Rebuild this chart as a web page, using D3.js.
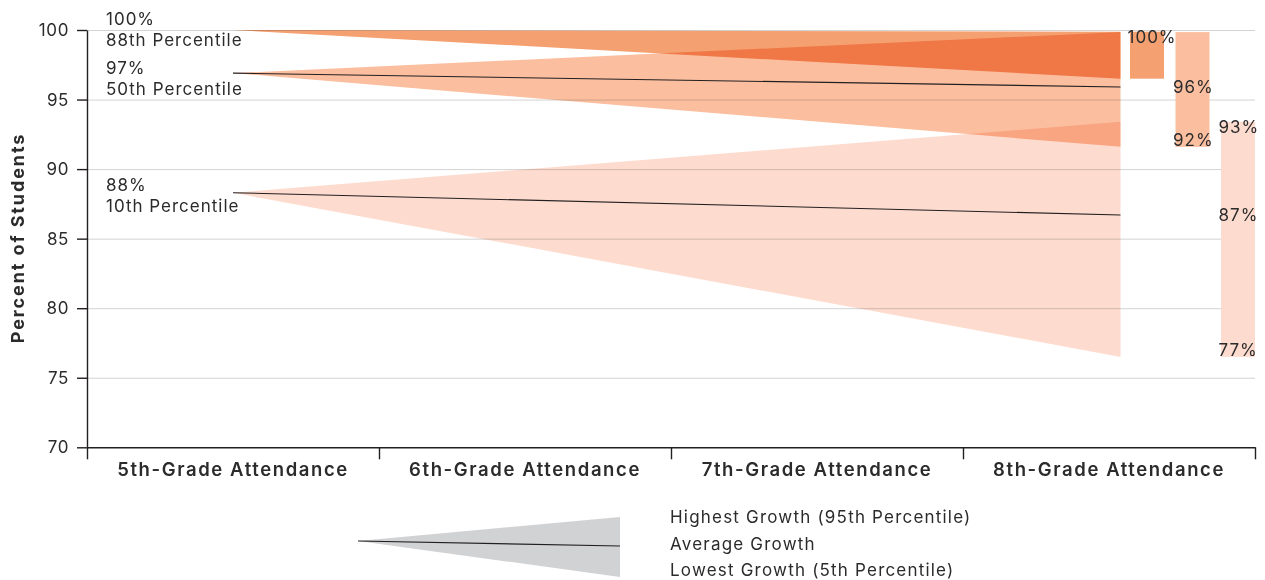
<!DOCTYPE html>
<html>
<head>
<meta charset="utf-8">
<script src="https://cdn.jsdelivr.net/npm/d3@7"></script>
<style>
  html, body { margin: 0; padding: 0; background: #fff; }
  svg { display: block; font-family: "Inter", "Lato", sans-serif; }
  text { fill: #2b2b2b; }
</style>
</head>
<body>
<svg id="chart" width="1265" height="580"></svg>
<script>
// Attendance growth fans: where a 5th-grade percentile lands by 8th grade
const grades = ["5th-Grade Attendance", "6th-Grade Attendance", "7th-Grade Attendance", "8th-Grade Attendance"];
const percentiles = ["88th Percentile", "50th Percentile", "10th Percentile"];
const start5th = [100, 96.9, 88.3];        // attendance in 5th grade
const high8th = [99.88, 99.85, 93.4];      // 95th percentile of growth, 8th grade
const avg8th = [null, 95.9, 86.7];         // average growth, 8th grade
const low8th = [96.5, 91.6, 76.5];         // 5th percentile of growth, 8th grade
const yTicks = [70, 75, 80, 85, 90, 95, 100];
const legendLabels = ["Highest Growth (95th Percentile)", "Average Growth", "Lowest Growth (5th Percentile)"];

const fills = ["#f4a070", "#fbbfa0", "#fddccf"];
const ink = "#231f20";

const svg = d3.select("#chart");
const plotLeft = 87, plotRight = 1255, plotTop = 30, plotBottom = 447.3;

const y = d3.scaleLinear().domain([70, 100]).range([plotBottom, plotTop]);
const x = d3.scaleBand().domain(grades).range([plotLeft, plotRight]);

// bar slots inside the last grade band
const barW = 34, barStep = 45.5;
const barX = i => plotRight - barW - (percentiles.length - 1 - i) * barStep;
const fanStart = x(grades[0]) + x.bandwidth() / 2;
const fanEnd = barX(0) - 9.5;

// grid
svg.append("g")
  .attr("transform", `translate(${plotLeft},0)`)
  .call(d3.axisLeft(y).tickValues(yTicks.slice(1)).tickSize(-(plotRight - plotLeft)).tickFormat(""))
  .call(g => g.select(".domain").remove())
  .call(g => g.selectAll("line").attr("stroke", "#d3d3d3").attr("stroke-width", 1));

// fans
const fans = svg.append("g");
percentiles.forEach((p, i) => {
  const pts = [[fanStart, y(start5th[i])], [fanEnd, y(high8th[i])], [fanEnd, y(low8th[i])]];
  fans.append("path")
    .attr("d", d3.line()(pts) + "Z")
    .attr("fill", fills[i])
    .style("mix-blend-mode", "multiply");
});

// average growth lines
percentiles.forEach((p, i) => {
  if (avg8th[i] == null) return;
  svg.append("line")
    .attr("x1", fanStart).attr("y1", y(start5th[i]))
    .attr("x2", fanEnd).attr("y2", y(avg8th[i]))
    .attr("stroke", ink).attr("stroke-width", 1.1);
});

// 8th-grade range bars
const fmt = v => d3.format(".0f")(v) + "%";
const bars = svg.append("g");
percentiles.forEach((p, i) => {
  bars.append("rect")
    .attr("x", barX(i)).attr("y", y(high8th[i]))
    .attr("width", barW).attr("height", y(low8th[i]) - y(high8th[i]))
    .attr("fill", fills[i]);
});
const lab = svg.append("g").attr("font-size", 17).attr("letter-spacing", 1);
percentiles.forEach((p, i) => {
  const tx = barX(i) - 2.5;
  const showHigh = i === 0 || Math.abs(high8th[i] - high8th[i - 1]) > 1;
  if (showHigh) lab.append("text").attr("x", tx).attr("y", y(high8th[i]) + 11.5).text(fmt(high8th[i]));
  if (avg8th[i] != null) lab.append("text").attr("x", tx).attr("y", y(avg8th[i]) + 6).text(fmt(avg8th[i]));
  if (i > 0) lab.append("text").attr("x", tx).attr("y", y(low8th[i]) - 0.5).text(fmt(low8th[i]));
});

// start labels
const nudge = [-5, 1, -2];
percentiles.forEach((p, i) => {
  const by = y(start5th[i]) + nudge[i];
  lab.append("text").attr("x", 106).attr("y", by).text(fmt(start5th[i]));
  lab.append("text").attr("x", 106).attr("y", by + 21).text(p);
});

// y axis
svg.append("g")
  .attr("transform", `translate(${plotLeft},0)`)
  .call(d3.axisLeft(y).tickValues(yTicks).tickSize(10).tickSizeOuter(0).tickPadding(8))
  .call(g => g.selectAll("path, line").attr("stroke", ink).attr("stroke-width", 1.4))
  .call(g => g.selectAll("text").attr("font-size", 17).attr("font-family", "Inter")
    .attr("letter-spacing", 0.6).attr("fill", "#333"));

// x axis: boundary ticks + centered labels
const xEdges = d3.scaleLinear().domain([0, grades.length]).range([plotLeft, plotRight]);
svg.append("g")
  .attr("transform", `translate(0,${plotBottom})`)
  .call(d3.axisBottom(xEdges).ticks(grades.length).tickSize(12).tickSizeOuter(0).tickFormat(""))
  .call(g => g.selectAll("path, line").attr("stroke", ink).attr("stroke-width", 1.4));
svg.append("g")
  .attr("transform", `translate(0,${plotBottom})`)
  .call(d3.axisBottom(x).tickSize(0).tickPadding(12))
  .call(g => g.select(".domain").remove())
  .call(g => g.selectAll("text").attr("font-size", 18.5).attr("font-weight", 600)
    .attr("letter-spacing", 1.6)
    .attr("font-family", "Inter").attr("fill", "#2b2b2b").attr("dy", "0.9em"));

// y axis title
svg.append("text")
  .attr("transform", `translate(24,238) rotate(-90)`)
  .attr("text-anchor", "middle")
  .attr("font-size", 18).attr("font-weight", 700).attr("letter-spacing", 1.9)
  .text("Percent of Students");

// legend
const lx = d3.scaleLinear().domain([0, 1]).range([358, 620]);
const ly = d3.scaleLinear().domain([-1, 0, 1]).range([577, 541, 517]);
const legend = svg.append("g");
legend.append("path")
  .attr("d", d3.line()([[lx(0), ly(0)], [lx(1), ly(1)], [lx(1), ly(-1)]]) + "Z")
  .attr("fill", "#d1d2d4");
legend.append("line")
  .attr("x1", lx(0)).attr("y1", ly(0)).attr("x2", lx(1)).attr("y2", ly(-0.14))
  .attr("stroke", ink).attr("stroke-width", 1.1);
legendLabels.forEach((t, i) => {
  legend.append("text").attr("x", 670).attr("y", 523 + i * 26.5)
    .attr("font-size", 17).attr("letter-spacing", 1.2).text(t);
});
</script>
</body>
</html>
